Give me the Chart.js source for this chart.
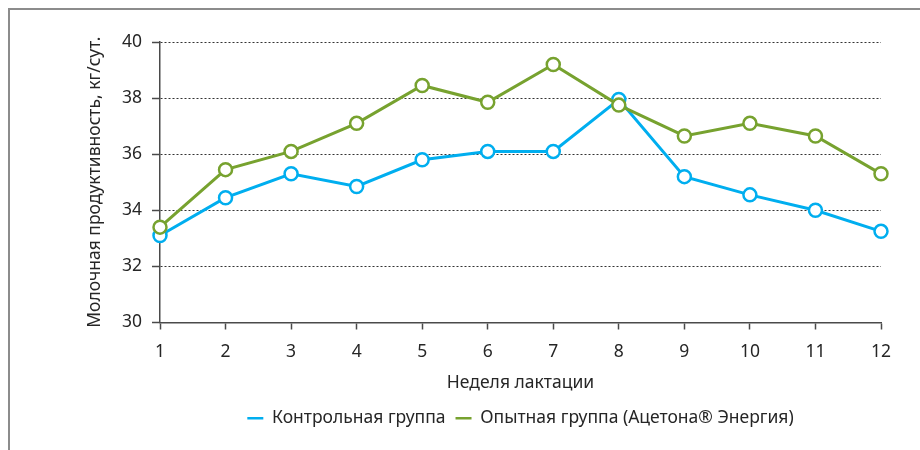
<!DOCTYPE html>
<html>
<head>
<meta charset="utf-8">
<script src="https://cdn.jsdelivr.net/npm/chart.js@4"></script>
<style>
  html, body { margin: 0; padding: 0; background: #fff; }
  #wrap { position: relative; width: 920px; height: 450px; }
  #frame { position: absolute; left: 8px; top: 8px; right: -10px; bottom: -10px; border-top: 2px solid #8c8c8c; border-left: 2px solid #8c8c8c; }
  canvas { position: absolute; left: 0; top: 0; }
</style>
</head>
<body>
<div id="wrap">
  <div id="frame"></div>
  <canvas id="chart" width="920" height="450"></canvas>
</div>
<script>
const weeks = ["1", "2", "3", "4", "5", "6", "7", "8", "9", "10", "11", "12"];
const control = [33.1, 34.45, 35.3, 34.85, 35.8, 36.1, 36.1, 37.95, 35.2, 34.55, 34.0, 33.25];
const trial = [33.4, 35.45, 36.1, 37.1, 38.45, 37.85, 39.2, 37.75, 36.65, 37.1, 36.65, 35.3];
const seriesNames = ["Контрольная группа", "Опытная группа (Ацетона® Энергия)"];

const font = "'Noto Sans', sans-serif";
const fontSize = 17.5;
const textColor = "#262626";
const axisColor = "#4a4a4a";

function line(label, data, color) {
    return {
        label: label,
        data: data,
        borderColor: color,
        backgroundColor: "#fff",
        borderWidth: 3,
        pointRadius: 6.5,
        pointHoverRadius: 6.5,
        pointBorderWidth: 2.5,
        pointBackgroundColor: "#fff",
        pointBorderColor: color,
        tension: 0,
        fill: false
    };
}

// center the legend under the plot area, not the whole canvas
const legendUnderPlot = {
    id: "legendUnderPlot",
    afterLayout(chart) {
        const lg = chart.legend;
        if (!lg) return;
        lg.left = chart.chartArea.left;
        lg.right = chart.chartArea.right;
        lg.adjustHitBoxes();
    }
};

new Chart(document.getElementById("chart"), {
    type: "line",
    data: {
        labels: weeks,
        // green first so it is drawn on top; legend reversed
        datasets: [
            line(seriesNames[1], trial, "#77a22f"),
            line(seriesNames[0], control, "#00aeef")
        ]
    },
    options: {
        responsive: false,
        animation: false,
        layout: { padding: { left: 84, right: 39, top: 42, bottom: 13 } },
        plugins: {
            tooltip: { enabled: false },
            legend: {
                position: "bottom",
                reverse: true,
                labels: {
                    usePointStyle: true,
                    pointStyle: "line",
                    pointStyleWidth: 16,
                    color: textColor,
                    font: { family: font, size: fontSize },
                    padding: 10
                }
            }
        },
        scales: {
            x: {
                grid: { drawOnChartArea: false, drawTicks: true, tickLength: 7, tickColor: axisColor, tickWidth: 1.5 },
                border: { color: axisColor, width: 1.5 },
                ticks: { color: textColor, font: { family: font, size: fontSize }, padding: 12, maxRotation: 0 },
                title: { display: true, text: "Неделя лактации", color: textColor, font: { family: font, size: fontSize }, padding: { top: 0, bottom: 6 } },
                afterFit: s => { s.height = 77; }
            },
            y: {
                min: 30,
                max: 40,
                ticks: { stepSize: 2, color: textColor, font: { family: font, size: fontSize }, padding: 10 },
                grid: { color: "#333", lineWidth: 1, tickLength: 8, tickColor: axisColor, tickWidth: 1.5, tickBorderDash: [] },
                border: { color: axisColor, width: 1.5, dash: [2, 2] },
                title: { display: true, text: "Молочная продуктивность, кг/сут.", color: textColor, font: { family: font, size: fontSize }, padding: { top: 1, bottom: 0 } },
                afterFit: s => { s.width = 160 - 84; }
            }
        }
    },
    plugins: [legendUnderPlot]
});
</script>
</body>
</html>
